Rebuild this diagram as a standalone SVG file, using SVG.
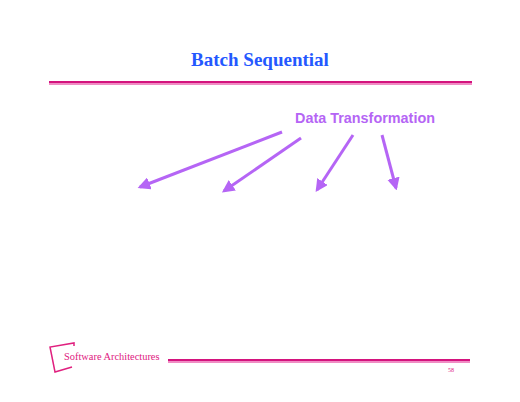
<svg xmlns="http://www.w3.org/2000/svg" width="520" height="402" viewBox="0 0 520 402">
<style>
.title{font-family:"Liberation Serif",serif;font-weight:bold;font-size:19px;fill:#2458ff}
.label{font-family:"Liberation Sans",Arial,sans-serif;font-weight:bold;font-size:14.4px;fill:#b565f5}
.conn{stroke:#b565f5;stroke-width:3;fill:none;stroke-linecap:butt}
.foot{font-family:"Liberation Serif",serif;font-size:10.4px;fill:#e0207f}
.dark{stroke:#d4137e;stroke-width:2}
.light{stroke:#f08cc4;stroke-width:2}
</style>
<defs>
<marker id="ah" viewBox="0 0 10 10" refX="8" refY="5" markerWidth="4.2" markerHeight="4.2" orient="auto" markerUnits="strokeWidth">
<path d="M0,0 L10,5 L0,10 Z" fill="#b565f5"/>
</marker>
</defs>
<rect width="520" height="402" fill="#ffffff"/>
<g id="title"><text class="title" x="260" y="66" text-anchor="middle">Batch Sequential</text></g>
<g id="top-rule">
<line class="dark" x1="49" y1="82" x2="472" y2="82"/>
<line class="light" x1="49" y1="84" x2="472" y2="84"/>
</g>
<g id="data-transformation"><text class="label" x="365" y="123" text-anchor="middle">Data Transformation</text></g>
<g id="connectors">
<line class="conn" x1="282" y1="132" x2="140" y2="187" marker-end="url(#ah)"/>
<line class="conn" x1="301" y1="138" x2="224" y2="191" marker-end="url(#ah)"/>
<line class="conn" x1="353" y1="135" x2="317" y2="190" marker-end="url(#ah)"/>
<line class="conn" x1="382" y1="135" x2="396" y2="188" marker-end="url(#ah)"/>
</g>
<g id="footer">
<polyline points="74,346 74,343 50,347 55,372 72,367" fill="none" stroke="#e0207f" stroke-width="1.5"/>
<text class="foot" x="64" y="360">Software Architectures</text>
<line class="dark" x1="168" y1="360" x2="470" y2="360"/>
<line class="light" x1="168" y1="362" x2="470" y2="362"/>
<text x="451" y="372" text-anchor="middle" style="font-family:'Liberation Serif',serif;font-size:6px;fill:#e0207f">58</text>
</g>
</svg>
